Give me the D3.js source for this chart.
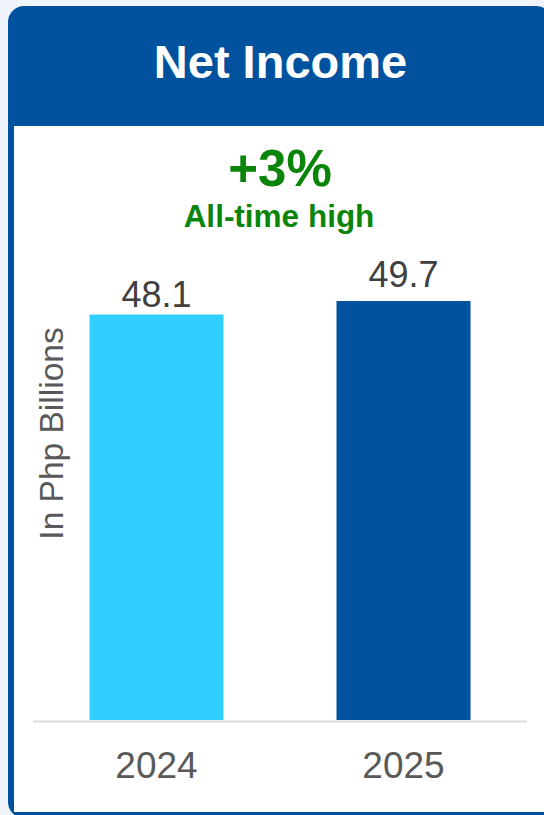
<!DOCTYPE html>
<html>
<head>
<meta charset="utf-8">
<script src="https://cdn.jsdelivr.net/npm/d3@7"></script>
<style>
  html, body { margin: 0; padding: 0; background: #eff4fb; }
  svg { display: block; font-family: "Liberation Sans", Arial, sans-serif; }
</style>
</head>
<body>
<svg id="chart" width="544" height="815"></svg>
<script>
const categories = ["2024", "2025"];
const values = [48.1, 49.7];
const valueLabels = ["48.1", "49.7"];
const barColors = ["#31cfff", "#00529f"];
const title = "Net Income";
const growthLabel = "+3%";
const growthNote = "All-time high";
const yAxisTitle = "In Php Billions";

const W = 544, H = 815;
const svg = d3.select("#chart");

// background + card
svg.append("rect").attr("width", W).attr("height", H).attr("fill", "#eff4fb");
svg.append("rect").attr("x", 8).attr("y", 6).attr("width", 544).attr("height", 812)
  .attr("rx", 16).attr("fill", "#00529f");
svg.append("rect").attr("x", 14).attr("y", 126).attr("width", 540).attr("height", 686)
  .attr("fill", "#ffffff");

// title
svg.append("text").attr("x", 280.5).attr("y", 78).attr("text-anchor", "middle")
  .attr("font-size", 47).attr("font-weight", "bold").attr("fill", "#ffffff").text(title);

// growth annotation
svg.append("text").attr("x", 280).attr("y", 186).attr("text-anchor", "middle")
  .attr("font-size", 51).attr("font-weight", "bold").attr("fill", "#0a850a").text(growthLabel);
svg.append("text").attr("x", 279).attr("y", 227).attr("text-anchor", "middle")
  .attr("font-size", 31.5).attr("font-weight", "bold").attr("fill", "#0a850a").text(growthNote);

// scales
const x = d3.scaleBand().domain(categories).range([33, 527])
  .paddingInner(0.4575).paddingOuter(0.2287);
const y = d3.scaleLinear().domain([0, 55]).range([720, 720 - 55 * 8.43]);

// bars
svg.append("g").selectAll("rect").data(values).join("rect")
  .attr("x", (d, i) => x(categories[i]))
  .attr("y", d => y(d))
  .attr("width", x.bandwidth())
  .attr("height", d => y(0) - y(d))
  .attr("fill", (d, i) => barColors[i]);

// baseline axis
const xAxis = d3.axisBottom(x).tickSize(0).tickPadding(0);
const gx = svg.append("g").attr("transform", "translate(0,721.5)").call(xAxis);
gx.select(".domain").attr("stroke", "#dcdcdc").attr("stroke-width", 2)
  .attr("d", "M33,0H527");
gx.selectAll(".tick text").attr("font-size", 37).attr("fill", "#595959")
  .attr("font-family", "'Liberation Sans', Arial, sans-serif")
  .attr("dy", null).attr("y", 56.5);

// value labels
const labelGap = [8, 14];
svg.append("g").selectAll("text").data(values).join("text")
  .attr("x", (d, i) => x(categories[i]) + x.bandwidth() / 2)
  .attr("y", (d, i) => y(d) - labelGap[i])
  .attr("text-anchor", "middle")
  .attr("font-size", 36).attr("fill", "#404040")
  .text((d, i) => valueLabels[i]);

// y axis title
svg.append("text").attr("transform", "translate(63,433.5) rotate(-90)")
  .attr("text-anchor", "middle").attr("font-size", 33.5).attr("fill", "#595959")
  .text(yAxisTitle);
</script>
</body>
</html>
